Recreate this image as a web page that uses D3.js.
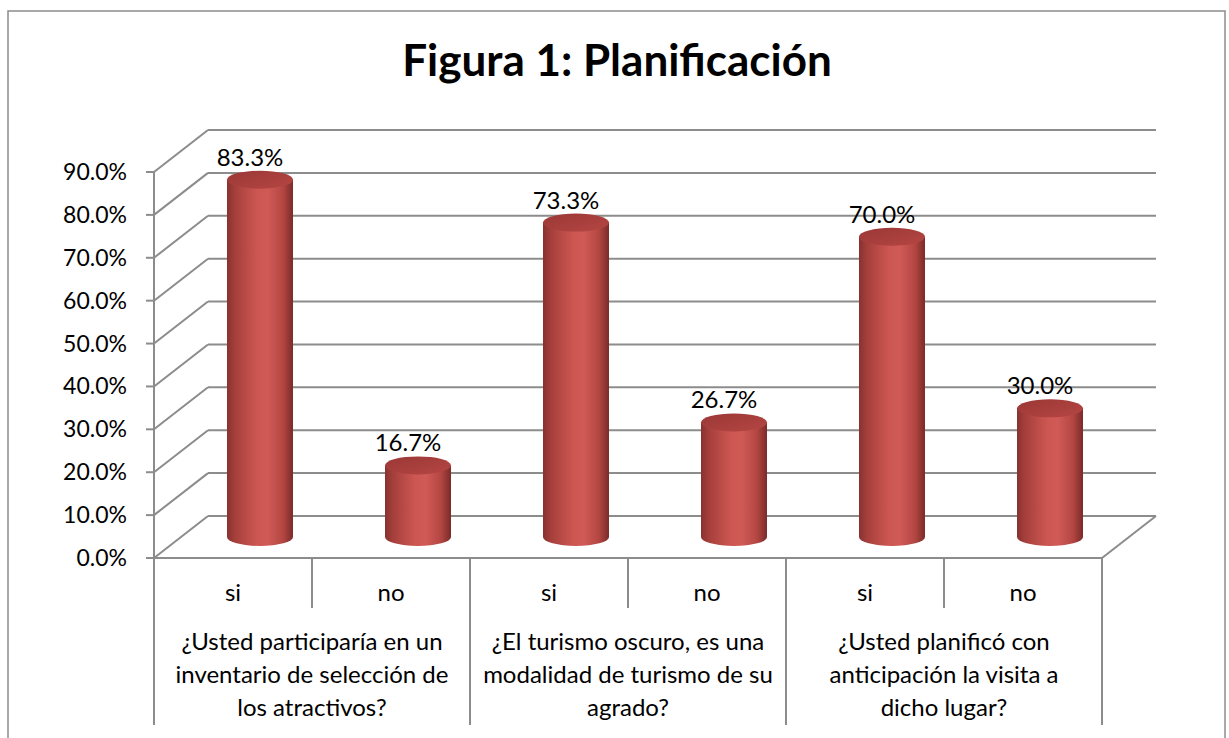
<!DOCTYPE html>
<html>
  <head>
    <title>Figura 1: Planificación</title>
    <script src="https://d3js.org/d3.v7.min.js"></script>
    <style>
        body { margin: 0; background: white; }
        svg { display: block; }
        text { font-family: Lato, "Open Sans", sans-serif; fill: #000; }
    </style>
  </head>
  <body>
    <svg id="chart" width="1229" height="738"></svg>
  </body>
  <script>
    // data
    const leaves = ["si", "no", "si", "no", "si", "no"];
    const values = [83.3, 16.7, 73.3, 26.7, 70.0, 30.0];
    const groups = [
        ["¿Usted participaría en un", "inventario de selección de", "los atractivos?"],
        ["¿El turismo oscuro, es una", "modalidad de turismo de su", "agrado?"],
        ["¿Usted planificó con", "anticipación la visita a", "dicho lugar?"]
    ];
    const yTicks = [0, 10, 20, 30, 40, 50, 60, 70, 80, 90];

    const svg = d3.select("#chart");
    const grid = "#8c8c8c";

    // outer frame
    svg.append("rect")
        .attr("x", 8).attr("y", 11)
        .attr("width", 1217).attr("height", 760)
        .attr("fill", "none").attr("stroke", grid).attr("stroke-width", 1.5);

    svg.append("text")
        .attr("x", 617).attr("y", 76)
        .attr("text-anchor", "middle")
        .style("font-size", "44px").style("font-weight", "bold")
        .text("Figura 1: Planificación");

    // plot geometry (front plane) and depth offset
    const x = d3.scaleBand().domain(d3.range(leaves.length)).range([154, 1102]);
    const y = d3.scaleLinear().domain([0, 90]).range([558, 172]);
    const dx = 54, dy = -42;

    // side wall diagonals + back wall gridlines
    const g = svg.append("g").attr("stroke", grid).attr("stroke-width", 2).attr("fill", "none");
    yTicks.forEach(t => {
        g.append("line")
            .attr("x1", 154).attr("y1", y(t))
            .attr("x2", 154 + dx).attr("y2", y(t) + dy);
        g.append("line")
            .attr("x1", 154 + dx).attr("y1", y(t) + dy)
            .attr("x2", 1102 + dx).attr("y2", y(t) + dy);
    });
    // floor right edge
    g.append("line")
        .attr("x1", 1102).attr("y1", y(0))
        .attr("x2", 1102 + dx).attr("y2", y(0) + dy);

    // value axis
    g.append("line").attr("x1", 154).attr("y1", y(0)).attr("x2", 154).attr("y2", y(90));
    yTicks.forEach(t => {
        g.append("line").attr("x1", 146).attr("y1", y(t)).attr("x2", 154).attr("y2", y(t));
    });
    svg.append("g").selectAll("text")
        .data(yTicks)
        .join("text")
        .attr("x", 127)
        .attr("y", d => y(d) + 8)
        .attr("text-anchor", "end")
        .style("font-size", "23px")
        .text(d => d.toFixed(1) + "%");

    // category axis
    g.append("line").attr("x1", 154).attr("y1", y(0)).attr("x2", 1102).attr("y2", y(0));
    d3.range(leaves.length + 1).forEach(i => {
        const xx = i < leaves.length ? x(i) : x.range()[1];
        g.append("line")
            .attr("x1", xx).attr("y1", y(0))
            .attr("x2", xx).attr("y2", i % 2 === 0 ? 725 : 608);
    });
    svg.append("g").selectAll("text")
        .data(leaves)
        .join("text")
        .attr("x", (d, i) => x(i) + x.bandwidth() / 2)
        .attr("y", 601)
        .attr("text-anchor", "middle")
        .style("font-size", "24px")
        .text(d => d);

    groups.forEach((lines, gi) => {
        const cx = x(gi * 2) + x.bandwidth();
        lines.forEach((ln, li) => {
            svg.append("text")
                .attr("x", cx)
                .attr("y", 650 + li * 33)
                .attr("text-anchor", "middle")
                .style("font-size", "24px")
                .text(ln);
        });
    });

    // cylinder gradients
    const defs = svg.append("defs");
    const bodyGrad = defs.append("linearGradient").attr("id", "body")
        .attr("x1", 0).attr("x2", 1).attr("y1", 0).attr("y2", 0);
    [[0, "#873230"], [0.12, "#a53f3b"], [0.45, "#cc5651"], [0.62, "#d05a56"], [0.85, "#b34642"], [1, "#7a2b29"]]
        .forEach(s => bodyGrad.append("stop").attr("offset", s[0]).attr("stop-color", s[1]));
    const capGrad = defs.append("linearGradient").attr("id", "cap")
        .attr("x1", 0).attr("x2", 1).attr("y1", 0).attr("y2", 1);
    [[0, "#9a3836"], [1, "#b54643"]]
        .forEach(s => capGrad.append("stop").attr("offset", s[0]).attr("stop-color", s[1]));

    const rx = 33, ry = 9;
    const cyl = svg.append("g");
    values.forEach((v, i) => {
        const cx = x(i) + x.bandwidth() / 2 + dx / 2;
        const yb = y(0) + dy / 2;
        const yt = y(v) + dy / 2;
        cyl.append("path")
            .attr("d", `M${cx - rx},${yt} L${cx - rx},${yb} A${rx},${ry} 0 0 0 ${cx + rx},${yb} L${cx + rx},${yt} Z`)
            .attr("fill", "url(#body)");
        cyl.append("ellipse")
            .attr("cx", cx).attr("cy", yt)
            .attr("rx", rx).attr("ry", ry)
            .attr("fill", "url(#cap)");
        cyl.append("text")
            .attr("x", cx - 10)
            .attr("y", yt - ry - 5)
            .attr("text-anchor", "middle")
            .style("font-size", "24px")
            .text(v.toFixed(1) + "%");
    });
  </script>
</html>
